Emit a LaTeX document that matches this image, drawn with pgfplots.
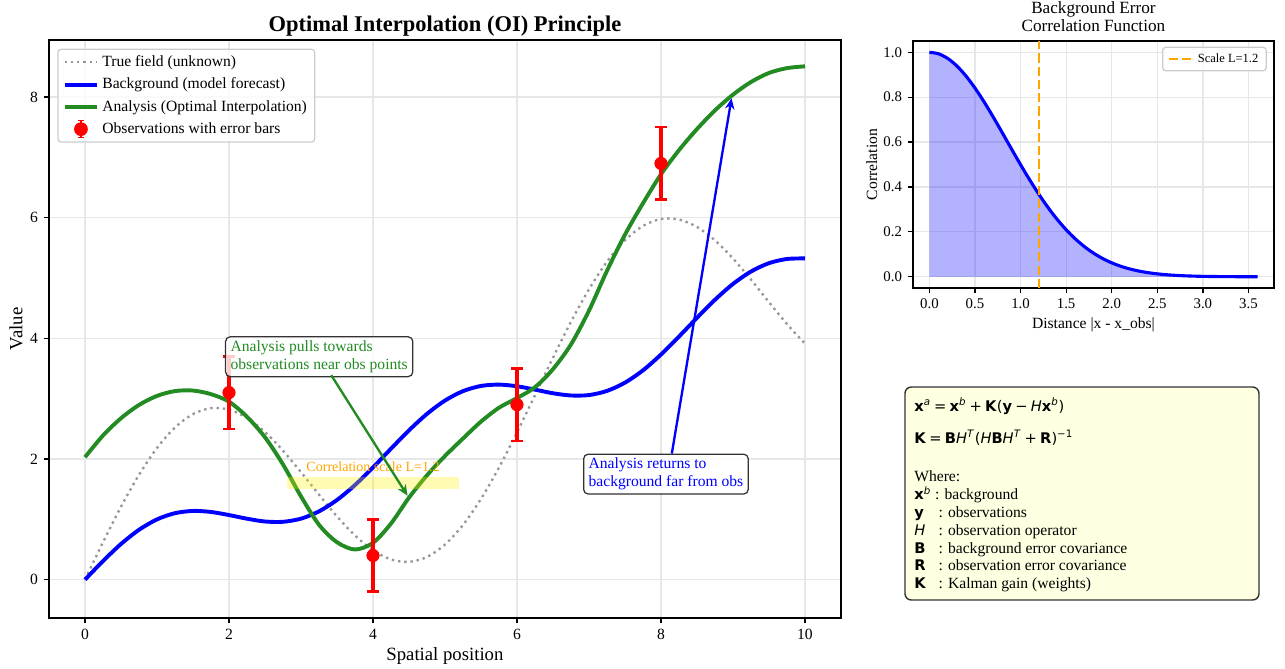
\documentclass[border=0pt]{standalone}
\usepackage{pgfplots}
\usepackage{pgfplotstable}
\pgfplotsset{compat=1.18}
\usepackage{fontspec}
\setmainfont{Liberation Serif}
\newfontfamily\dv{DejaVu Sans}
\usetikzlibrary{arrows.meta}
\definecolor{fgreen}{RGB}{34,139,34}
\definecolor{mgrid}{RGB}{231,231,231}
\definecolor{morange}{RGB}{255,165,0}
\definecolor{tgray}{RGB}{150,150,150}
\definecolor{boxyellow}{RGB}{255,255,226}
\definecolor{legedge}{RGB}{204,204,204}
\definecolor{boxedge}{RGB}{50,50,50}

\pgfplotstableread{
x y
0 0
0.25 0.620
0.5 1.209
0.75 1.738
1.0 2.183
1.25 2.523
1.5 2.745
1.75 2.843
2.0 2.819
2.25 2.681
2.5 2.447
2.75 2.138
3.0 1.782
3.25 1.409
3.5 1.048
3.75 0.732
4.0 0.486
4.25 0.335
4.5 0.295
4.75 0.376
5.0 0.582
5.25 0.907
5.5 1.339
5.75 1.859
6.0 2.441
6.25 3.059
6.5 3.680
6.75 4.275
7.0 4.814
7.25 5.272
7.5 5.626
7.75 5.864
8.0 5.979
8.25 5.970
8.5 5.847
8.75 5.624
9.0 5.324
9.25 4.974
9.5 4.600
9.75 4.236
10 3.912
}\truetab

\pgfplotstableread{
x y
0 0
0.25 0.308
0.5 0.591
0.75 0.826
1.0 0.999
1.25 1.102
1.5 1.139
1.75 1.122
2.0 1.071
2.25 1.010
2.5 0.964
2.75 0.959
3.0 1.011
3.25 1.132
3.5 1.321
3.75 1.569
4.0 1.860
4.25 2.171
4.5 2.475
4.75 2.748
5.0 2.969
5.25 3.125
5.5 3.211
5.75 3.233
6.0 3.206
6.25 3.150
6.5 3.090
6.75 3.053
7.0 3.060
7.25 3.129
7.5 3.266
7.75 3.470
8.0 3.732
8.25 4.030
8.5 4.341
8.75 4.640
9.0 4.902
9.25 5.108
9.5 5.247
9.75 5.316
10 5.325
}\bgtab

\pgfplotstableread{
x y
0 2.03
0.25 2.39
0.5 2.676
0.75 2.896
1.0 3.046
1.25 3.126
1.5 3.135
1.75 3.075
2.0 2.95
2.25 2.70
2.5 2.36
2.75 1.91
3.0 1.38
3.25 0.91
3.5 0.62
3.75 0.50
4.0 0.61
4.25 0.93
4.5 1.36
4.75 1.73
5.0 2.05
5.25 2.34
5.5 2.62
5.75 2.85
6.0 3.01
6.25 3.19
6.5 3.49
6.75 3.90
7.0 4.46
7.25 5.12
7.5 5.72
7.75 6.24
8.0 6.72
8.25 7.12
8.5 7.47
8.75 7.78
9.0 8.04
9.25 8.25
9.5 8.40
9.75 8.48
10 8.51
}\antab

\pgfplotstableread{
x y
0 1
0.1 0.99308
0.2 0.97260
0.3 0.93941
0.4 0.89484
0.5 0.84063
0.6 0.77880
0.7 0.71161
0.8 0.64118
0.9 0.56978
1.0 0.49935
1.1 0.43159
1.2 0.36788
1.3 0.30924
1.4 0.25637
1.5 0.20961
1.6 0.16901
1.7 0.13441
1.8 0.10540
1.9 0.08152
2.0 0.06218
2.1 0.04677
2.2 0.03470
2.3 0.02539
2.4 0.01832
2.5 0.01304
2.6 0.00915
2.7 0.00633
2.8 0.00432
2.9 0.00291
3.0 0.00193
3.1 0.00126
3.2 0.00082
3.3 0.00052
3.4 0.00033
3.5 0.00020
3.6 0.00012
}\corrtab

\pgfplotsset{
  mystyle/.style={
    scale only axis,
    grid=major, grid style={mgrid, line width=0.8pt},
    axis line style={line width=0.8pt},
    tick align=outside, tick pos=left,
    major tick length=3.5pt,
    every tick/.style={black, line width=0.8pt},
    /pgf/number format/assume math mode=true,
  }
}

\newcommand{\bx}{\textbf{x}}

\begin{document}
\begin{tikzpicture}
\useasboundingbox (0,0) rectangle (823.7pt,428.2pt);

% ---------------- main axis ----------------
\begin{axis}[mystyle,
  at={(31.41pt,32.05pt)}, anchor=south west,
  width=507.67pt, height=370.5pt,
  xmin=-0.5, xmax=10.5, ymin=-0.636, ymax=8.946,
  xtick={0,2,4,6,8,10}, ytick={0,2,4,6,8},
  tick label style={font=\fontsize{10}{12}\selectfont},
  legend cell align=left,
  legend style={at={(0.0105,0.985)}, anchor=north west,
    font=\fontsize{10}{12}\selectfont,
    draw=legedge, line width=0.8pt, fill=white, fill opacity=0.8, text opacity=1,
    rounded corners=2pt, inner xsep=3pt, inner ysep=2pt, row sep=1.8pt},
  legend image code/.code={\draw[#1] (0pt,0pt) -- (21pt,0pt);},
]
\addplot[tgray, line width=1.5pt, dash pattern=on 1.5pt off 2.5pt, smooth] table {\truetab};
\addlegendentry{True field (unknown)}
\addplot[blue, line width=2.5pt, smooth] table {\bgtab};
\addlegendentry{Background (model forecast)}
\addplot[fgreen, line width=2.5pt, smooth] table {\antab};
\addlegendentry{Analysis (Optimal Interpolation)}
\addplot[red, only marks, mark=*, mark size=4pt, mark options={fill=red, draw=red},
  error bars/.cd, y dir=both, y explicit,
  error bar style={line width=2pt, red},
  error mark options={rotate=90, line width=1.6pt, mark size=3.9pt, red},
  /pgfplots/legend image code/.code={
    \draw[red, line width=1.5pt] (10.5pt,-5.5pt) -- (10.5pt,5.5pt);
    \draw[red, line width=1pt] (8.3pt,-5.5pt) -- (12.7pt,-5.5pt) (8.3pt,5.5pt) -- (12.7pt,5.5pt);
    \fill[red, fill opacity=1] (10.5pt,0pt) circle (4pt);}
  ] coordinates {(2,3.1) +- (0,0.6) (4,0.4) +- (0,0.6) (6,2.9) +- (0,0.6) (8,6.9) +- (0,0.6)};
\addlegendentry{Observations with error bars}

% correlation scale
\fill[yellow, opacity=0.3] (axis cs:2.8,1.5) rectangle (axis cs:5.2,1.7);
\node[text=morange, font=\fontsize{9}{10}\selectfont, anchor=base] at (axis cs:4,1.80) {Correlation scale L=1.2};

% annotation 1
\node[draw=boxedge, line width=0.8pt, rounded corners=3pt, fill=white, fill opacity=0.8, text opacity=1,
  text=fgreen, align=left, anchor=north west, inner xsep=3.2pt, inner ysep=2.5pt,
  font=\fontsize{10}{11.5}\selectfont] at (axis cs:1.944,4.037) {Analysis pulls towards\\observations near obs points};
\draw[fgreen, line width=1.5pt, -{Stealth[length=7pt, width=6pt]}] (axis cs:3.42,3.39) -- (axis cs:4.48,1.39);

% annotation 2
\node[draw=boxedge, line width=0.8pt, rounded corners=3pt, fill=white, fill opacity=0.8, text opacity=1,
  text=blue, align=left, anchor=north west, inner xsep=3.2pt, inner ysep=2.5pt,
  font=\fontsize{10}{11.5}\selectfont] at (axis cs:6.917,2.091) {Analysis returns to\\background far from obs};
\draw[blue, line width=1.5pt, -{Stealth[length=7pt, width=6pt]}] (axis cs:8.15,2.09) -- (axis cs:8.98,7.98);
\end{axis}

% main titles and labels
\node[font=\fontsize{14.4}{16}\selectfont\bfseries, anchor=base] at (285.2pt,407.7pt) {Optimal Interpolation (OI) Principle};
\node[font=\fontsize{12}{14}\selectfont, anchor=base] at (285.2pt,5.13pt) {Spatial position};
\node[font=\fontsize{12}{14}\selectfont, rotate=90] at (10.2pt,217.3pt) {Value};

% ---------------- right axis ----------------
\begin{axis}[mystyle,
  at={(585.23pt,243.58pt)}, anchor=south west,
  width=231.4pt, height=158.33pt,
  xmin=-0.18, xmax=3.78, ymin=-0.05, ymax=1.05,
  xtick={0,0.5,1,1.5,2,2.5,3,3.5}, ytick={0,0.2,0.4,0.6,0.8,1},
  tick label style={font=\fontsize{9.5}{11}\selectfont},
  xticklabel style={/pgf/number format/.cd, fixed, fixed zerofill, precision=1},
  yticklabel style={/pgf/number format/.cd, fixed, fixed zerofill, precision=1},
  legend cell align=left,
  legend style={at={(0.98,0.977)}, anchor=north east,
    font=\fontsize{8}{9.6}\selectfont,
    draw=legedge, line width=0.8pt, fill=white, fill opacity=0.8, text opacity=1,
    rounded corners=2pt, inner xsep=3pt, inner ysep=2pt},
  legend image code/.code={\draw[#1] (0pt,0pt) -- (16pt,0pt);},
]
\addplot[draw=none, fill=blue, fill opacity=0.3, forget plot] table {\corrtab} \closedcycle;
\addplot[blue, line width=2pt, smooth, forget plot] table {\corrtab};
\addplot[morange, line width=1.6pt, dash pattern=on 5.9pt off 2.6pt] coordinates {(1.2,-0.05) (1.2,1.05)};
\addlegendentry{Scale L=1.2}
\end{axis}

\node[font=\fontsize{11}{12}\selectfont, anchor=base] at (700.9pt,419.7pt) {Background Error};
\node[font=\fontsize{11}{12}\selectfont, anchor=base] at (700.9pt,407.9pt) {Correlation Function};
\node[font=\fontsize{10}{12}\selectfont, anchor=base] at (700.9pt,217.9pt) {Distance |x - x\_obs|};
\node[font=\fontsize{10}{12}\selectfont, rotate=90] at (558.8pt,322.7pt) {Correlation};

% ---------------- formula box ----------------
\draw[boxedge, line width=0.9pt, rounded corners=4pt, fill=boxyellow] (580.1pt,43.6pt) rectangle (807.0pt,180.1pt);
\begin{scope}[every node/.style={anchor=base west, inner sep=0pt, font=\fontsize{10}{12}\selectfont}]
\node at (585.9pt,164.3pt) {{\dv\fontsize{9.4}{11}\selectfont\bx\textsuperscript{\textit{a}}\hspace{0.22em}=\hspace{0.22em}\bx\textsuperscript{\textit{b}}\hspace{0.22em}+\hspace{0.22em}\textbf{K}(\textbf{y}\hspace{0.22em}−\hspace{0.22em}\textit{H}\bx\textsuperscript{\textit{b}})}};
\node at (585.9pt,144.2pt) {{\dv\fontsize{9.4}{11}\selectfont\textbf{K}\hspace{0.22em}=\hspace{0.22em}\textbf{B}\textit{H}\textsuperscript{\textit{T}}(\textit{H}\textbf{B}\textit{H}\textsuperscript{\textit{T}}\hspace{0.22em}+\hspace{0.22em}\textbf{R})\textsuperscript{−1}}};
\node at (585.9pt,119.4pt) {Where:};
\node at (585.9pt,107.7pt) {{\dv\fontsize{9.4}{11}\selectfont\bx\textsuperscript{\textit{b}}} : background};
\node at (585.9pt,96.6pt) {\makebox[15.5pt][l]{\dv\fontsize{9.4}{11}\selectfont\textbf{y}}: observations};
\node at (585.9pt,84.8pt) {\makebox[15.5pt][l]{\dv\fontsize{9.4}{11}\selectfont\textit{H}}: observation operator};
\node at (585.9pt,73.5pt) {\makebox[15.5pt][l]{\dv\fontsize{9.4}{11}\selectfont\textbf{B}}: background error covariance};
\node at (585.9pt,62.4pt) {\makebox[15.5pt][l]{\dv\fontsize{9.4}{11}\selectfont\textbf{R}}: observation error covariance};
\node at (585.9pt,51.1pt) {\makebox[15.5pt][l]{\dv\fontsize{9.4}{11}\selectfont\textbf{K}}: Kalman gain (weights)};
\end{scope}
\end{tikzpicture}
\end{document}
